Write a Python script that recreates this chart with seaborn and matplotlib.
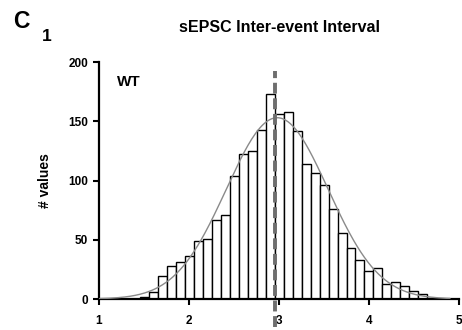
import numpy as np
import pandas as pd
import matplotlib
matplotlib.use("Agg")
import matplotlib.pyplot as plt
import seaborn as sns

# Inter-event interval histogram: bin centres (width 0.1) and counts
bin_centers = [1.5, 1.6, 1.7, 1.8, 1.9, 2.0, 2.1, 2.2, 2.3, 2.4, 2.5,
               2.6, 2.7, 2.8, 2.9, 3.0, 3.1, 3.2, 3.3, 3.4, 3.5, 3.6,
               3.7, 3.8, 3.9, 4.0, 4.1, 4.2, 4.3, 4.4, 4.5, 4.6, 4.7]
counts = [2, 6, 19, 28, 31, 36, 49, 51, 67, 71, 104,
          122, 125, 143, 173, 156, 158, 142, 114, 106, 96, 76,
          56, 43, 33, 24, 26, 13, 14, 11, 7, 4, 1]

# Gaussian fit of the distribution and its centre marker
fit_mean = 2.98
fit_sd = 0.565
fit_peak = 153
center_line = 2.96

x_ticks = [1, 2, 3, 4, 5]
y_ticks = [0, 50, 100, 150, 200]

sns.set_style("ticks")
plt.rcParams["font.family"] = ["Liberation Sans", "DejaVu Sans"]
plt.rcParams["font.weight"] = "bold"
plt.rcParams["text.color"] = "black"

fig = plt.figure(figsize=(4.62, 3.30), dpi=100)
ax = fig.add_axes([0.2143, 0.0939, 0.7792, 0.7182])

hist_df = pd.DataFrame({"interval": bin_centers, "n": counts})
sns.histplot(data=hist_df, x="interval", weights="n", binwidth=0.1,
             binrange=(1.45, 4.75), color="white", edgecolor="black",
             linewidth=1.0, alpha=1, ax=ax, zorder=2)

fit_x = np.linspace(1.0, 4.9, 300)
fit_y = fit_peak * np.exp(-0.5 * ((fit_x - fit_mean) / fit_sd) ** 2)
sns.lineplot(x=fit_x, y=fit_y, color="#8a8a8a", linewidth=1.0, ax=ax,
             zorder=3)

ax.plot([center_line, center_line], [-24, 192], color="#6e6e6e",
        linewidth=2.8, linestyle=(0, (2.8, 1.2)), clip_on=False, zorder=4)

ax.set_xlim(1, 5)
ax.set_ylim(0, 200)
ax.set_xticks(x_ticks)
ax.set_yticks(y_ticks)
ax.set_xticklabels([str(t) for t in x_ticks], fontweight="bold",
                   fontsize=8.5, color="black")
ax.set_yticklabels([str(t) for t in y_ticks], fontweight="bold",
                   fontsize=8.5, color="black")
ax.tick_params(axis="both", direction="out", length=4.3, width=1.5,
               colors="black")
ax.tick_params(axis="x", pad=7.5)
ax.tick_params(axis="y", pad=3.5)
for side in ["left", "bottom"]:
    ax.spines[side].set_linewidth(1.6)
    ax.spines[side].set_color("black")
sns.despine(ax=ax)

ax.set_xlabel("")
ax.set_ylabel("# values", fontweight="bold", fontsize=10, color="black")
ax.yaxis.set_label_coords(-0.13, 0.5)

ax.text(1.2, 189, "WT", fontsize=11, fontweight="bold", va="top",
        ha="left", color="black")

fig.text(0.604, 1 - 28 / 330, "sEPSC Inter-event Interval",
         fontsize=11.5, fontweight="bold", ha="center", va="center",
         color="black")
fig.text(13 / 462, 1 - 28 / 330, "C", fontsize=16.5, fontweight="bold",
         ha="left", va="baseline", color="black")
fig.text(42 / 462, 1 - 41 / 330, "1", fontsize=12.5, fontweight="bold",
         ha="left", va="baseline", color="black")

fig.savefig("out.png", dpi=100)
